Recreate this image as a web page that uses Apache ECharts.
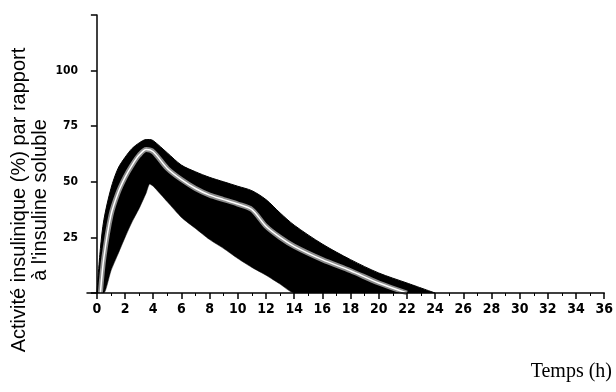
<!DOCTYPE html>
<html>
<head>
<meta charset="utf-8">
<script src="https://cdn.jsdelivr.net/npm/echarts@6/dist/echarts.min.js"></script>
<style>
html,body{margin:0;padding:0;background:#fff;}
#chart{width:616px;height:392px;}
</style>
</head>
<body>
<div id="chart"></div>
<script>
// Data
const times = [0,0.25,0.5,1,1.5,2,2.5,3,3.5,3.75,4,5,6,7,8,9,10,11,12,13,14,16,18,20,22,24];
const upperBound = [0,20,33,47,56,61,65,67.5,69,69,68.5,63,57.5,54.5,52,50,48,46,42,36,30.5,22,15,9,4.5,0];
const lowerBound = [0,0,0,10,17.5,25,32,38,45,49,48,41,34,29,24,20,15.5,11.5,8,4,0,0,0,0,0,0];
const meanTimes = [0.25,0.5,1,1.5,2,2.5,3,3.5,4,5,6,7,8,9,10,11,12,13,14,16,18,20,22];
const meanValues = [0,16,35,45,52,57.5,62,64.5,63.5,56,51,47,44,42,40,37.5,30,25,21,15,10,4.5,0];
const xMajorTicks = [0,2,4,6,8,10,12,14,16,18,20,22,24,26,28,30,32,34,36];
const xMinorTicks = [1,3,5,7,9,11,13,15,17,19,21,23,25,27,29,31,33,35];
const yTicks = [25,50,75,100];
const yTitle = "Activité insulinique (%) par rapport\nà l'insuline soluble";
const xTitle = "Temps (h)";

const upperData = times.map((t,i)=>[t, upperBound[i]]);
const lowerData = times.map((t,i)=>[t, lowerBound[i]]);
const meanData = meanTimes.map((t,i)=>[t, meanValues[i]]);

const chart = echarts.init(document.getElementById('chart'), null, {renderer:'canvas'});
const tickFont = "'Liberation Sans Narrow','DejaVu Sans Condensed','Liberation Sans',sans-serif";
chart.setOption({
  animation:false,
  grid:{left:87, right:10, top:15, bottom:99, containLabel:false},
  xAxis:[{
    type:'value', min:-0.7, max:36, z:10,
    axisLine:{show:true, onZero:false, lineStyle:{color:'#000', width:1.5}},
    axisTick:{show:true, customValues:xMajorTicks, length:6, lineStyle:{color:'#000', width:1.5}},
    axisLabel:{show:true, customValues:xMajorTicks, margin:9, color:'#000', fontSize:14, fontWeight:'bold', fontFamily:tickFont},
    splitLine:{show:false}
  },{
    type:'value', min:-0.7, max:36, position:'bottom', z:10,
    axisLine:{show:false},
    axisTick:{show:true, customValues:xMinorTicks, length:3, lineStyle:{color:'#000', width:1}},
    axisLabel:{show:false},
    splitLine:{show:false}
  }],
  yAxis:{
    type:'value', min:0, max:125, interval:25, z:10,
    axisLine:{show:true, onZero:true, lineStyle:{color:'#000', width:1.5}},
    axisTick:{show:true, length:6, lineStyle:{color:'#000', width:1.5}},
    axisLabel:{show:true, margin:9, color:'#000', fontSize:12, fontWeight:'bold', fontFamily:tickFont,
      formatter:(v)=> yTicks.indexOf(v)>=0 ? String(v) : ''},
    splitLine:{show:false}
  },
  series:[
    {type:'line', data:upperData, smooth:0.3, symbol:'none',
      lineStyle:{color:'#000', width:1}, areaStyle:{color:'#000', opacity:1}, z:2},
    {type:'line', data:lowerData, smooth:0.2, symbol:'none',
      lineStyle:{color:'#000', width:0.5}, areaStyle:{color:'#fff', opacity:1}, z:3},
    {type:'line', data:meanData, smooth:0.3, symbol:'none', lineStyle:{color:'#8c8c8c', width:5}, z:4},
    {type:'line', data:meanData, smooth:0.3, symbol:'none', lineStyle:{color:'#ffffff', width:1.5}, z:5}
  ],
  graphic:[
    {type:'text', x:30, y:200, rotation:Math.PI/2,
      style:{text:yTitle, fill:'#000', font:"20px 'Liberation Sans', Arial, sans-serif",
        align:'center', verticalAlign:'middle', lineHeight:21}},
    {type:'text', x:612, y:372,
      style:{text:xTitle, fill:'#000', font:"20px 'Liberation Serif', 'Times New Roman', serif",
        align:'right', verticalAlign:'middle'}}
  ]
});
</script>
</body>
</html>
